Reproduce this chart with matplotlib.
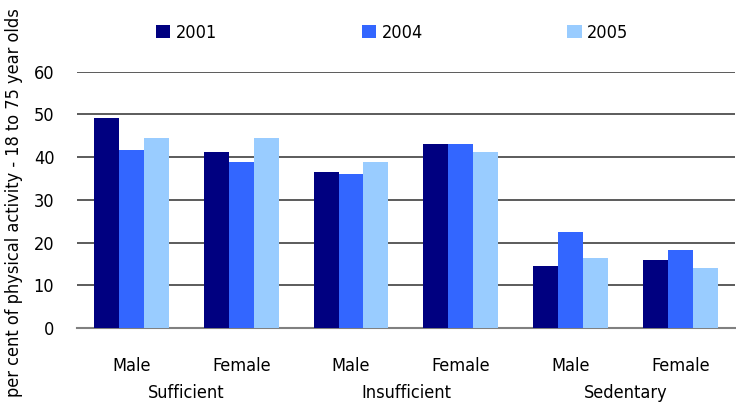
import matplotlib.pyplot as plt
import numpy as np

plt.rcParams['font.family'] = ['DejaVu Sans']
plt.rcParams['font.stretch'] = 'condensed'

groups = ['Sufficient', 'Insufficient', 'Sedentary']
sexes = ['Male', 'Female', 'Male', 'Female', 'Male', 'Female']
years = ['2001', '2004', '2005']
v2001 = [49.2, 41.2, 36.5, 43.1, 14.5, 15.9]
v2004 = [41.7, 38.9, 36.1, 43.1, 22.5, 18.3]
v2005 = [44.5, 44.5, 38.9, 41.2, 16.4, 14.1]
colors = ['#000080', '#3366FF', '#99CCFF']

fig = plt.figure(figsize=(7.36, 4.07), dpi=100)
ax = fig.add_axes([0.104, 0.194, 0.895, 0.630])

x = np.arange(len(sexes))
w = 0.227
for i, (vals, c, lab) in enumerate(zip([v2001, v2004, v2005], colors, years)):
    ax.bar(x + (i - 1) * w, vals, w, color=c, label=lab, zorder=3)

ax.set_ylim(0, 60)
ax.set_xlim(-0.5, 5.5)
ax.set_yticks(range(0, 61, 10))
ax.yaxis.grid(True, color='#404040', linewidth=1.2, zorder=0)
ax.set_axisbelow(True)
for s in ['top', 'right', 'left']:
    ax.spines[s].set_visible(False)
ax.spines['bottom'].set_color('#808080')
ax.spines['bottom'].set_linewidth(1.5)
ax.tick_params(axis='y', length=0, labelsize=13, pad=16)
ax.tick_params(axis='x', length=0, labelsize=13, pad=21)
ax.set_xticks(x)
ax.set_xticklabels(sexes)
for j, g in enumerate(groups):
    ax.text(2 * j + 0.5, -0.255, g, transform=ax.get_xaxis_transform(),
            ha='center', va='center', fontsize=13)

ax.set_ylabel('per cent of physical activity - 18 to 75 year olds', fontsize=13)
ax.yaxis.set_label_coords(-0.082, 0.49)

ax.legend(loc='upper left', bbox_to_anchor=(0.096, 1.25), ncol=3, frameon=False,
          fontsize=13, handlelength=0.8, handleheight=0.8, handletextpad=0.3,
          columnspacing=8.0)

fig.savefig('out.png', dpi=100)
